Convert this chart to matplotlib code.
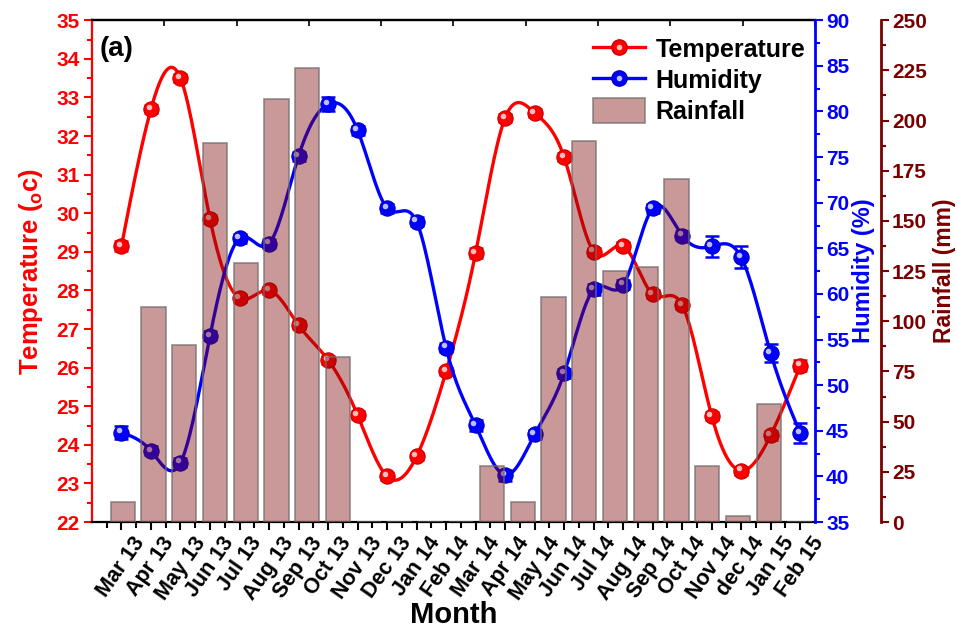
import numpy as np
import matplotlib
matplotlib.use("Agg")
import matplotlib.pyplot as plt
from matplotlib.ticker import MultipleLocator, FixedLocator
from matplotlib.transforms import ScaledTranslation
from matplotlib.lines import Line2D
from matplotlib.patches import Patch

plt.rcParams['font.family'] = ['Liberation Sans', 'DejaVu Sans']
plt.rcParams['font.weight'] = 'bold'
plt.rcParams['mathtext.fontset'] = 'custom'
plt.rcParams['mathtext.rm'] = 'Liberation Sans:bold'
plt.rcParams['mathtext.bf'] = 'Liberation Sans:bold'
plt.rcParams['mathtext.it'] = 'Liberation Sans:bold'

# ---------------- data ----------------
months = ["Mar 13", "Apr 13", "May 13", "Jun 13", "Jul 13", "Aug 13", "Sep 13", "Oct 13",
          "Nov 13", "Dec 13", "Jan 14", "Feb 14", "Mar 14", "Apr 14", "May 14", "Jun 14",
          "Jul 14", "Aug 14", "Sep 14", "Oct 14", "Nov 14", "dec 14", "Jan 15", "Feb 15"]
temperature = [29.15, 32.7, 33.5, 29.85, 27.8, 28.0, 27.1, 26.2, 24.77, 23.18, 23.7, 25.9,
               28.97, 32.47, 32.6, 31.45, 29.0, 29.15, 27.9, 27.62, 24.75, 23.33, 24.25, 26.05]
temp_err = [0.12, 0.1, 0.1, 0.1, 0.1, 0.1, 0.1, 0.1, 0.1, 0.1, 0.1, 0.1,
            0.12, 0.1, 0.1, 0.1, 0.1, 0.1, 0.1, 0.1, 0.1, 0.1, 0.12, 0.15]
humidity = [44.8, 42.8, 41.5, 55.4, 66.1, 65.5, 75.1, 80.8, 77.95, 69.4, 67.9, 54.1,
            45.6, 40.15, 44.6, 51.3, 60.5, 61.0, 69.4, 66.4, 65.2, 64.0, 53.5, 44.75]
hum_err = [0.7, 0.5, 0.5, 0.5, 0.5, 0.5, 0.5, 0.8, 0.5, 0.5, 0.5, 0.5,
           0.6, 0.6, 0.5, 0.5, 0.6, 0.5, 0.5, 0.5, 1.2, 1.2, 1.0, 1.1]
rainfall = [10, 107, 88, 189, 129, 211, 226, 82, 0, 0, 0, 0,
            28, 10, 112, 190, 125, 127, 171, 28, 3, 59, 0]

temp_ticks = list(range(22, 36))
hum_ticks = list(range(35, 95, 5))
rain_ticks = list(range(0, 275, 25))

RED = '#ff0000'
BLUE = '#0000ff'
DRED = '#7a0000'


def spline_curve(x, y, num=400):
    x = np.asarray(x, float)
    y = np.asarray(y, float)
    n = len(x)
    h = np.diff(x)
    A = np.zeros((n, n))
    b = np.zeros(n)
    A[0, 0] = A[-1, -1] = 1
    for i in range(1, n - 1):
        A[i, i - 1] = h[i - 1]
        A[i, i] = 2 * (h[i - 1] + h[i])
        A[i, i + 1] = h[i]
        b[i] = 6 * ((y[i + 1] - y[i]) / h[i] - (y[i] - y[i - 1]) / h[i - 1])
    M = np.linalg.solve(A, b)
    xs = np.linspace(x[0], x[-1], num)
    idx = np.clip(np.searchsorted(x, xs) - 1, 0, n - 2)
    x0 = x[idx]
    x1 = x[idx + 1]
    hh = x1 - x0
    t0 = x1 - xs
    t1 = xs - x0
    ys = (M[idx] * t0 ** 3 + M[idx + 1] * t1 ** 3) / (6 * hh) \
        + (y[idx] / hh - M[idx] * hh / 6) * t0 + (y[idx + 1] / hh - M[idx + 1] * hh / 6) * t1
    return xs, ys


fig = plt.figure(figsize=(9.57, 6.32), dpi=100)
fig.subplots_adjust(left=0.0961, right=0.8516, top=0.968, bottom=0.174)
ax = fig.add_subplot(111)
x = np.arange(1, len(months) + 1)
xmax = len(months) + 0.5

hl_off = ScaledTranslation(-1.7 / 72, 1.7 / 72, fig.dpi_scale_trans)


def draw_series(a, xv, yv, err, color, edge):
    xs, ys = spline_curve(xv, yv)
    a.plot(xs, ys, color=color, lw=2.4, zorder=2)
    a.errorbar(xv, yv, yerr=err, fmt='none', ecolor=color, elinewidth=1.8, capsize=5,
               capthick=1.8, zorder=3)
    a.plot(xv, yv, 'o', ms=11, mfc=color, mec=edge, mew=0.8, zorder=4)
    a.plot(xv, yv, 'o', ms=4, mfc='white', mec='none', alpha=0.75, zorder=5,
           transform=a.transData + hl_off)


# temperature (host)
draw_series(ax, x, temperature, temp_err, RED, '#c80000')
ax.set_xlim(0, xmax)
ax.set_ylim(22, 35)
ax.yaxis.set_major_locator(FixedLocator(temp_ticks))
ax.yaxis.set_minor_locator(MultipleLocator(0.5))
ax.set_xticks(x)
ax.set_xticklabels(months, rotation=55, ha='center', va='top',
                   fontsize=15.5, fontweight='bold')
ax.xaxis.set_minor_locator(FixedLocator(np.arange(0.5, xmax, 1.0)))
ax.tick_params(axis='x', which='major', direction='out', length=6, width=1.5, pad=2)
ax.tick_params(axis='x', which='minor', direction='out', length=4, width=1.5)
ax.tick_params(axis='y', which='major', colors=RED, direction='out', length=6, width=1.5,
               labelsize=15, pad=3)
ax.tick_params(axis='y', which='minor', colors=RED, direction='out', length=3.5, width=1.5)
for t in ax.get_yticklabels():
    t.set_fontweight('bold')
ax.spines['left'].set_color(RED)
ax.spines['right'].set_visible(False)
for s in ax.spines.values():
    s.set_linewidth(1.6)
ax.set_ylabel('Temperature ($_{o}$c)', color=RED, fontsize=18.5, fontweight='bold', labelpad=8)
ax.set_xlabel('Month', fontsize=21, fontweight='bold', labelpad=-2)
ax.text(0.011, 0.968, '(a)', transform=ax.transAxes, fontsize=20, fontweight='bold',
        ha='left', va='top')

top = ax.secondary_xaxis('top')
top.set_xticks(np.linspace(0, xmax, 11))
top.tick_params(direction='in', length=4, width=1.2, labeltop=False)
top.spines['top'].set_linewidth(1.6)

# humidity
ax_h = ax.twinx()
draw_series(ax_h, x, humidity, hum_err, BLUE, '#0000c0')
ax_h.set_ylim(35, 90)
ax_h.yaxis.set_major_locator(FixedLocator(hum_ticks))
ax_h.yaxis.set_minor_locator(MultipleLocator(2.5))
ax_h.tick_params(axis='y', which='major', colors=BLUE, direction='out', length=6, width=1.5,
                 labelsize=15, pad=2)
ax_h.tick_params(axis='y', which='minor', colors=BLUE, direction='out', length=3.5, width=1.5)
for t in ax_h.get_yticklabels():
    t.set_fontweight('bold')
for k in ['left', 'top', 'bottom']:
    ax_h.spines[k].set_visible(False)
ax_h.spines['right'].set_color(BLUE)
ax_h.spines['right'].set_linewidth(2.0)
ax_h.set_ylabel('Humidity (%)', color=BLUE, fontsize=17, fontweight='bold', labelpad=2)

# rainfall (own axes, drawn on top with translucent bars)
ax_r = fig.add_axes(ax.get_position())
ax_r.patch.set_visible(False)
xb = np.arange(1, len(rainfall) + 1)
ax_r.bar(xb, rainfall, width=0.79, color=(0.49, 0.03, 0.03, 0.41),
         edgecolor=(0.45, 0.42, 0.42, 0.75), linewidth=1.2, zorder=2)
ax_r.set_xlim(0, len(rainfall) + 0.5)
ax_r.set_ylim(0, 250)
ax_r.xaxis.set_visible(False)
ax_r.yaxis.tick_right()
ax_r.yaxis.set_label_position('right')
ax_r.yaxis.set_major_locator(FixedLocator(rain_ticks))
ax_r.yaxis.set_minor_locator(MultipleLocator(12.5))
for k in ['left', 'top', 'bottom']:
    ax_r.spines[k].set_visible(False)
ax_r.spines['right'].set_position(('outward', 47.5))
ax_r.spines['right'].set_color(DRED)
ax_r.spines['right'].set_linewidth(2.0)
ax_r.tick_params(axis='y', which='major', colors=DRED, direction='out', length=6, width=1.5,
                 labelsize=15, pad=2)
ax_r.tick_params(axis='y', which='minor', colors=DRED, direction='out', length=3.5, width=1.5)
for t in ax_r.get_yticklabels():
    t.set_fontweight('bold')
ax_r.set_ylabel('Rainfall (mm)', color=DRED, fontsize=16.5, fontweight='bold', labelpad=4)

# legend
h_t = (Line2D([], [], color=RED, lw=2.4, marker='o', ms=11, mfc=RED, mec='#c80000'),
       Line2D([], [], ls='none', marker='o', ms=4, mfc='white', mec='none', alpha=0.75))
h_h = (Line2D([], [], color=BLUE, lw=2.4, marker='o', ms=11, mfc=BLUE, mec='#0000c0'),
       Line2D([], [], ls='none', marker='o', ms=4, mfc='white', mec='none', alpha=0.75))
h_r = Patch(facecolor=(0.49, 0.03, 0.03, 0.41), edgecolor=(0.45, 0.42, 0.42, 0.75), lw=1.2)
leg = ax_r.legend([h_t, h_h, h_r], ['Temperature', 'Humidity', 'Rainfall'],
                  loc='upper right', bbox_to_anchor=(1.009, 1.0), frameon=False,
                  prop={'size': 18, 'weight': 'bold'}, handlelength=2.1,
                  handleheight=1.15, labelspacing=0.2, handletextpad=0.4,
                  borderaxespad=0.25)

fig.savefig('out.png', dpi=100)
